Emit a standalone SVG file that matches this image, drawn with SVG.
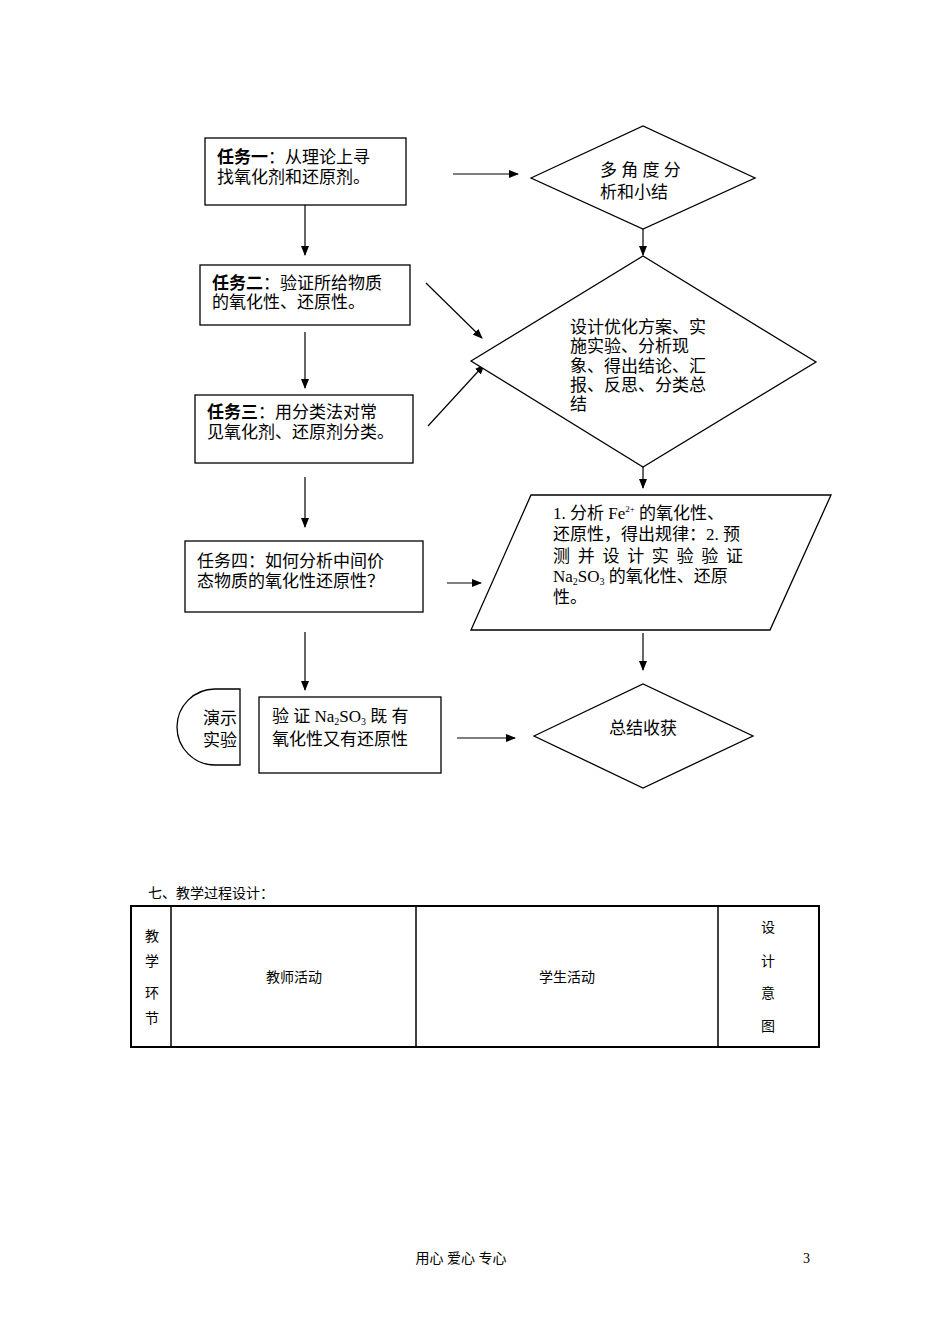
<svg xmlns="http://www.w3.org/2000/svg" width="950" height="1344" viewBox="0 0 950 1344">
<defs>
<marker id="ah" markerWidth="10" markerHeight="8" refX="9" refY="4" orient="auto" markerUnits="userSpaceOnUse"><path d="M0,0 L10,4 L0,8 z" fill="#000"/></marker>
<style>
.s{fill:#fff;stroke:#000;stroke-width:1.3}
.t{font-family:"Liberation Serif","Noto Sans CJK SC",serif;font-size:17px;fill:#000}
.b{font-weight:bold}
.c{stroke:#000;stroke-width:1.2;fill:none;marker-end:url(#ah)}
.sm{font-family:"Liberation Serif","Noto Sans CJK SC",serif;font-size:14px;fill:#000}
</style>
</defs>
<rect width="950" height="1344" fill="#fff"/>
<g id="connectors">
<line class="c" x1="453" y1="174" x2="518" y2="174"/>
<line class="c" x1="643" y1="229" x2="643" y2="255"/>
<line class="c" x1="305" y1="205" x2="305" y2="255"/>
<line class="c" x1="426" y1="283" x2="482" y2="338"/>
<line class="c" x1="428" y1="426" x2="484" y2="365"/>
<line class="c" x1="305" y1="332" x2="305" y2="388"/>
<line class="c" x1="643" y1="446" x2="643" y2="488"/>
<line class="c" x1="305" y1="477" x2="305" y2="527"/>
<line class="c" x1="447" y1="583" x2="481" y2="583"/>
<line class="c" x1="643" y1="633" x2="643" y2="670"/>
<line class="c" x1="305" y1="632" x2="305" y2="690"/>
<line class="c" x1="457" y1="738" x2="515" y2="738"/>
</g>
<g id="task1"><rect class="s" x="205" y="138" width="201" height="67"/>
<text class="t" x="217" y="163"><tspan class="b">任务一</tspan>：从理论上寻</text><text class="t" x="217" y="183">找氧化剂和还原剂。</text></g>
<g id="d1"><polygon class="s" points="531,178 643,126 755,178 643,229"/>
<text class="t" x="600" y="176">多 角 度 分</text><text class="t" x="600" y="198">析和小结</text></g>
<g id="task2"><rect class="s" x="200" y="265" width="210" height="60"/>
<text class="t" x="212" y="289"><tspan class="b">任务二</tspan>：验证所给物质</text><text class="t" x="212" y="308">的氧化性、还原性。</text></g>
<g id="d2"><polygon class="s" points="471,361 643,256 816,362 643,467"/>
<text class="t" x="570" y="333">设计优化方案、实</text><text class="t" x="570" y="352">施实验、分析现</text><text class="t" x="570" y="372">象、得出结论、汇</text><text class="t" x="570" y="391">报、反思、分类总</text><text class="t" x="570" y="410">结</text></g>
<g id="task3"><rect class="s" x="195" y="395" width="218" height="68"/>
<text class="t" x="207" y="418"><tspan class="b">任务三</tspan>：用分类法对常</text><text class="t" x="207" y="438">见氧化剂、还原剂分类。</text></g>
<g id="task4"><rect class="s" x="185" y="541" width="238" height="71"/>
<text class="t" x="197" y="567">任务四：如何分析中间价</text><text class="t" x="197" y="587">态物质的氧化性还原性？</text></g>
<g id="para"><polygon class="s" points="531,495 831,495 770,630 471,630"/>
<text class="t" x="553" y="519">1. 分析 Fe<tspan font-size="9" dy="-7">2+</tspan><tspan dy="7"> 的氧化性、</tspan></text>
<text class="t" x="553" y="540">还原性，得出规律：2. 预</text>
<text class="t" x="553" y="562" textLength="190">测并设计实验验证</text>
<text class="t" x="553" y="582">Na<tspan font-size="10" dy="3">2</tspan><tspan dy="-3">SO</tspan><tspan font-size="10" dy="3">3</tspan><tspan dy="-3"> 的氧化性、还原</tspan></text>
<text class="t" x="553" y="603">性。</text></g>
<g id="demo"><path class="s" d="M240,689 L215,689 A38,38 0 0 0 215,765 L240,765 Z"/>
<text class="t" x="203" y="724">演示</text><text class="t" x="203" y="746">实验</text></g>
<g id="verify"><rect class="s" x="259" y="697" width="182" height="76"/>
<text class="t" x="272" y="722">验 证 Na<tspan font-size="10" dy="3">2</tspan><tspan dy="-3">SO</tspan><tspan font-size="10" dy="3">3</tspan><tspan dy="-3"> 既 有</tspan></text>
<text class="t" x="272" y="745">氧化性又有还原性</text></g>
<g id="d3"><polygon class="s" points="534,736 643,684 753,736 643,788"/>
<text class="t" x="643" y="734" text-anchor="middle">总结收获</text></g>
<g id="table">
<text class="sm" x="148" y="898">七、教学过程设计：</text>
<rect x="131" y="906" width="688" height="141" fill="none" stroke="#000" stroke-width="2"/>
<line x1="171" y1="906" x2="171" y2="1047" stroke="#000" stroke-width="1.5"/>
<line x1="416" y1="906" x2="416" y2="1047" stroke="#000" stroke-width="1.5"/>
<line x1="718" y1="906" x2="718" y2="1047" stroke="#000" stroke-width="1.5"/>
<text class="sm" x="152" y="941" text-anchor="middle">教</text>
<text class="sm" x="152" y="966" text-anchor="middle">学</text>
<text class="sm" x="152" y="998" text-anchor="middle">环</text>
<text class="sm" x="152" y="1023" text-anchor="middle">节</text>
<text class="sm" x="294" y="982" text-anchor="middle">教师活动</text>
<text class="sm" x="567" y="982" text-anchor="middle">学生活动</text>
<text class="sm" x="768" y="932" text-anchor="middle">设</text>
<text class="sm" x="768" y="966" text-anchor="middle">计</text>
<text class="sm" x="768" y="998" text-anchor="middle">意</text>
<text class="sm" x="768" y="1031" text-anchor="middle">图</text>
</g>
<text class="sm" x="461" y="1263" text-anchor="middle" font-size="13">用心 爱心 专心</text>
<text class="sm" x="803" y="1263" font-size="13">3</text>
</svg>
